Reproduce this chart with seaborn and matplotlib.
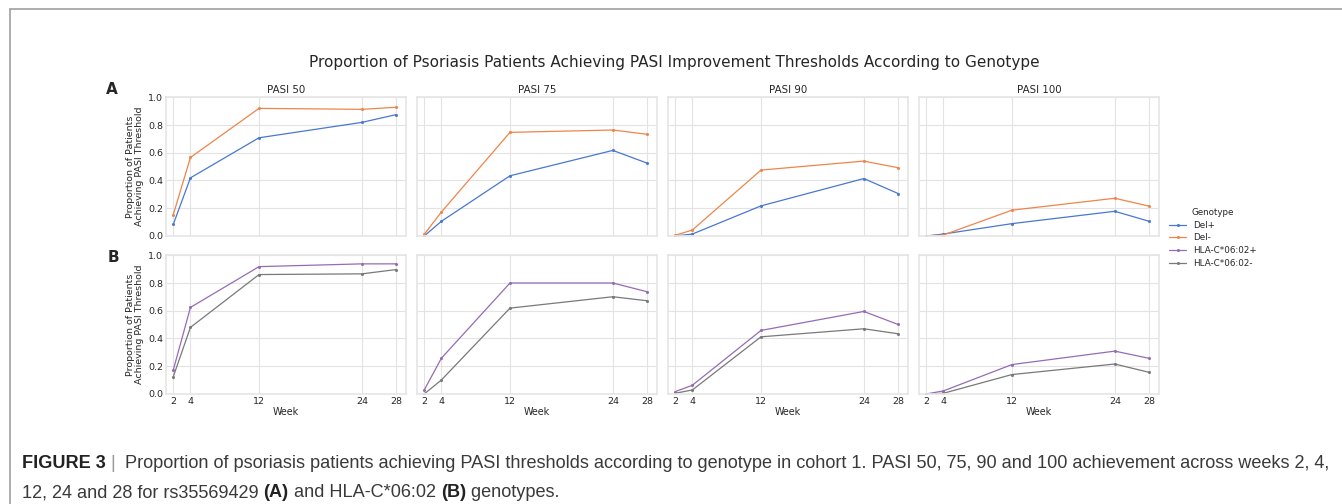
import numpy as np
import pandas as pd
import matplotlib
matplotlib.use("Agg")
import matplotlib.pyplot as plt
import seaborn as sns
from matplotlib.lines import Line2D

# --- data ---
weeks = [2, 4, 12, 24, 28]
thresholds = ["PASI 50", "PASI 75", "PASI 90", "PASI 100"]
genotypes_a = ["Del+", "Del-"]
genotypes_b = ["HLA-C*06:02+", "HLA-C*06:02-"]

del_pos = {
    "PASI 50": [0.084, 0.419, 0.708, 0.819, 0.875],
    "PASI 75": [0.000, 0.106, 0.434, 0.617, 0.525],
    "PASI 90": [0.000, 0.014, 0.217, 0.414, 0.306],
    "PASI 100": [0.000, 0.014, 0.089, 0.178, 0.106],
}
del_neg = {
    "PASI 50": [0.154, 0.566, 0.920, 0.913, 0.928],
    "PASI 75": [0.012, 0.173, 0.747, 0.764, 0.733],
    "PASI 90": [0.005, 0.043, 0.475, 0.540, 0.492],
    "PASI 100": [0.000, 0.007, 0.186, 0.272, 0.215],
}
hla_pos = {
    "PASI 50": [0.173, 0.624, 0.918, 0.938, 0.938],
    "PASI 75": [0.029, 0.258, 0.800, 0.800, 0.737],
    "PASI 90": [0.017, 0.063, 0.458, 0.595, 0.501],
    "PASI 100": [0.000, 0.022, 0.212, 0.309, 0.257],
}
hla_neg = {
    "PASI 50": [0.125, 0.480, 0.861, 0.866, 0.897],
    "PASI 75": [0.000, 0.101, 0.619, 0.701, 0.672],
    "PASI 90": [0.005, 0.029, 0.412, 0.470, 0.434],
    "PASI 100": [0.000, 0.005, 0.140, 0.216, 0.156],
}

series = {
    "Del+": del_pos,
    "Del-": del_neg,
    "HLA-C*06:02+": hla_pos,
    "HLA-C*06:02-": hla_neg,
}
rows = []
for geno, table in series.items():
    for thr in thresholds:
        for w, v in zip(weeks, table[thr]):
            rows.append({"Genotype": geno, "Threshold": thr, "Week": w, "Proportion": v})
df = pd.DataFrame(rows)

muted = sns.color_palette("muted")
palette = {
    "Del+": muted[0],
    "Del-": muted[1],
    "HLA-C*06:02+": muted[4],
    "HLA-C*06:02-": muted[7],
}

sns.set_theme(style="whitegrid")
plt.rcParams["font.family"] = ["DejaVu Sans"]

fig, axes = plt.subplots(2, 4, figsize=(13.42, 5.04), dpi=100, sharex=True, sharey=True)
fig.subplots_adjust(left=0.1237, right=0.8636, top=0.807, bottom=0.2183,
                    wspace=0.0456, hspace=0.139)

for r, genos in enumerate([genotypes_a, genotypes_b]):
    for c, thr in enumerate(thresholds):
        ax = axes[r, c]
        sub = df[(df["Threshold"] == thr) & (df["Genotype"].isin(genos))]
        sns.lineplot(data=sub, x="Week", y="Proportion", hue="Genotype",
                     hue_order=genos, palette=palette, marker="o",
                     markersize=2.2, markeredgewidth=0, linewidth=0.9,
                     ax=ax, legend=False)
        ax.set_xlim(1.15, 29.15)
        ax.set_ylim(0, 1)
        ax.set_xticks(weeks)
        ax.set_yticks([0, 0.2, 0.4, 0.6, 0.8, 1.0])
        ax.tick_params(labelsize=6.8, pad=2, length=0)
        for sp in ax.spines.values():
            sp.set_color("#e6e6e6")
        ax.grid(color="#e3e3e3", linewidth=0.8)
        if r == 0:
            ax.set_title(thr, fontsize=7.4, pad=3)
        if r == 1:
            ax.set_xlabel("Week", fontsize=6.9, labelpad=1)
        else:
            ax.set_xlabel("")
        if c == 0:
            ax.set_ylabel("Proportion of Patients\nAchieving PASI Threshold",
                          fontsize=6.8, labelpad=3, linespacing=1.0)
        else:
            ax.set_ylabel("")

fig.suptitle("Proportion of Psoriasis Patients Achieving PASI Improvement Thresholds According to Genotype",
             fontsize=11, x=674 / 1342, y=1 - 62 / 504, va="center")

fig.text(112 / 1342, 1 - 89 / 504, "A", fontsize=11, fontweight="bold", ha="center", va="center")
fig.text(113 / 1342, 1 - 257 / 504, "B", fontsize=11, fontweight="bold", ha="center", va="center")

handles = [Line2D([0], [0], color=palette[g], marker="o", markersize=2.2,
                  markeredgewidth=0, linewidth=0.9) for g in series]
leg = fig.legend(handles, list(series), title="Genotype", loc="center left",
                 bbox_to_anchor=(1161 / 1342, 1 - 238 / 504), frameon=False,
                 fontsize=6.3, title_fontsize=6.3, handlelength=2.0,
                 labelspacing=0.45, handletextpad=0.8)

# frame around the figure panel (cut at right and bottom)
fig.add_artist(Line2D([9.5 / 1342, 9.5 / 1342], [0, 1 - 8.5 / 504],
                      transform=fig.transFigure, color="#a0a0a0", linewidth=1.2))
fig.add_artist(Line2D([9.5 / 1342, 1], [1 - 8.5 / 504, 1 - 8.5 / 504],
                      transform=fig.transFigure, color="#a0a0a0", linewidth=1.2))

# caption with mixed bold pieces
renderer = fig.canvas.get_renderer()
cap_font = ["Liberation Sans", "DejaVu Sans"]
cap_size = 13.1
cap_color = "#3a3a3a"


def caption_line(pieces, x0, y):
    x = x0
    for txt, bold, color in pieces:
        t = fig.text(x / 1342, 1 - y / 504, txt, fontsize=cap_size, family=cap_font,
                     fontweight="bold" if bold else "normal", color=color,
                     ha="left", va="baseline")
        bb = t.get_window_extent(renderer)
        x += bb.width


caption_line([
    ("FIGURE 3", True, "#222222"),
    (" |  ", False, "#9a9a9a"),
    ("Proportion of psoriasis patients achieving PASI thresholds according to genotype in cohort 1. "
     "PASI 50, 75, 90 and 100 achievement across weeks 2, 4,", False, cap_color),
], 22, 468)
caption_line([
    ("12, 24 and 28 for rs35569429 ", False, cap_color),
    ("(A)", True, "#222222"),
    (" and HLA-C*06:02 ", False, cap_color),
    ("(B)", True, "#222222"),
    (" genotypes.", False, cap_color),
], 22, 497)

fig.savefig("out.png", dpi=100)
